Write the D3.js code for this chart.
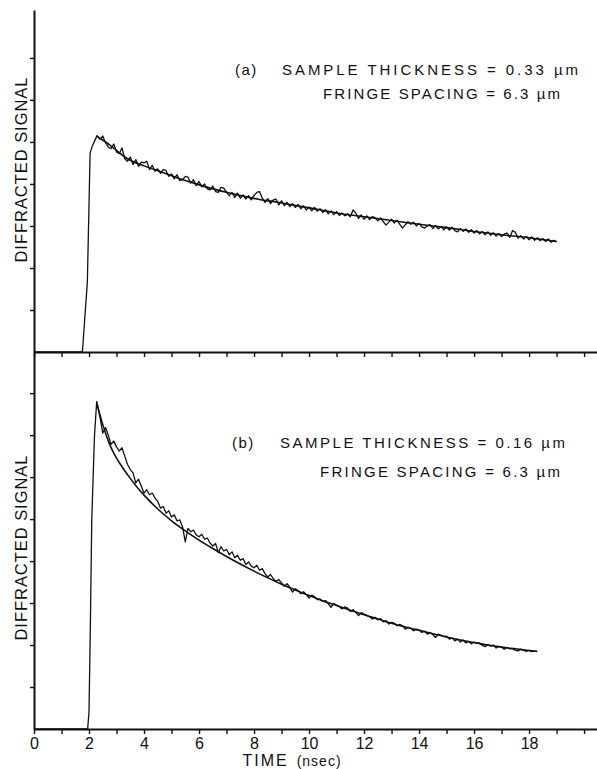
<!DOCTYPE html>
<html><head><meta charset="utf-8">
<script src="https://cdn.jsdelivr.net/npm/d3@7"></script>
<style>body{margin:0;background:#fff}svg{display:block}text{font-family:"Liberation Sans",Arial,sans-serif;fill:#111}</style>
</head><body><svg id="c" width="597" height="769"></svg>
<script>
// ---- data ----
const xTickValues = [0, 2, 4, 6, 8, 10, 12, 14, 16, 18];
const xTickLabels = ["0", "2", "4", "6", "8", "10", "12", "14", "16", "18"];
const xMinorTicks = [0,1,2,3,4,5,6,7,8,9,10,11,12,13,14,15,16,17,18,19,20];
const yTopTicks = [1, 2, 3, 4, 5, 6, 7];
const yBotTicks = [1, 2, 3, 4, 5, 6, 7, 8];

// panel (a): rise of the measured trace
const topRiseT = [0, 1.76, 1.94, 2.04, 2.12, 2.29];
const topRiseV = [0, 0, 1.67, 4.74, 4.90, 5.15];
// panel (a): measured (noisy) trace after the peak
const topNoisyT = [2.4,2.5,2.6,2.7,2.8,2.9,3.0,3.1,3.2,3.3,
  3.4,3.5,3.6,3.7,3.8,3.9,4.0,4.1,4.2,4.3,
  4.4,4.5,4.6,4.7,4.8,4.9,5.0,5.1,5.2,5.3,
  5.4,5.5,5.6,5.7,5.8,5.9,6.0,6.1,6.2,6.3,
  6.4,6.5,6.6,6.7,6.8,6.9,7.0,7.1,7.2,7.3,
  7.4,7.5,7.6,7.7,7.8,7.9,8.0,8.1,8.2,8.3,
  8.4,8.5,8.6,8.7,8.8,8.9,9.0,9.1,9.2,9.3,
  9.4,9.5,9.6,9.7,9.8,9.9,10.0,10.1,10.2,10.3,
  10.4,10.5,10.6,10.7,10.8,10.9,11.0,11.1,11.2,11.3,
  11.4,11.5,11.6,11.7,11.8,11.9,12.0,12.1,12.2,12.3,
  12.4,12.5,12.6,12.7,12.8,12.9,13.0,13.1,13.2,13.3,
  13.4,13.5,13.6,13.7,13.8,13.9,14.0,14.1,14.2,14.3,
  14.4,14.5,14.6,14.7,14.8,14.9,15.0,15.1,15.2,15.3,
  15.4,15.5,15.6,15.7,15.8,15.9,16.0,16.1,16.2,16.3,
  16.4,16.5,16.6,16.7,16.8,16.9,17.0,17.1,17.2,17.3,
  17.4,17.5,17.6,17.7,17.8,17.9,18.0,18.1,18.2,18.3,
  18.4,18.5,18.6,18.7,18.8,18.9,19.0];
const topNoisyV = [5.06,5.14,4.98,4.88,4.84,4.95,4.76,4.72,4.86,4.60,
  4.54,4.64,4.46,4.58,4.42,4.52,4.50,4.54,4.34,4.44,
  4.30,4.36,4.25,4.34,4.32,4.18,4.24,4.12,4.22,4.08,
  4.10,4.18,4.16,4.02,4.10,3.96,4.06,3.93,4.00,3.88,
  3.86,3.95,3.82,3.80,3.92,3.90,3.80,3.72,3.80,3.68,
  3.78,3.66,3.74,3.64,3.72,3.62,3.72,3.80,3.82,3.66,
  3.56,3.65,3.53,3.62,3.64,3.50,3.60,3.48,3.56,3.46,
  3.53,3.44,3.51,3.41,3.48,3.38,3.45,3.36,3.44,3.35,
  3.41,3.32,3.39,3.29,3.36,3.27,3.34,3.25,3.31,3.24,
  3.29,3.22,3.38,3.31,3.18,3.26,3.16,3.24,3.15,3.22,
  3.20,3.12,3.19,3.10,3.02,3.09,3.16,3.07,3.14,3.04,
  2.95,3.03,3.10,3.04,3.09,3.00,3.06,2.98,2.95,3.00,
  3.03,2.94,3.01,2.93,2.99,2.91,2.98,2.90,2.97,2.89,
  2.86,2.94,2.87,2.93,2.85,2.91,2.83,2.89,2.81,2.87,
  2.79,2.86,2.78,2.84,2.76,2.82,2.75,2.81,2.83,2.73,
  2.89,2.85,2.71,2.77,2.69,2.75,2.67,2.74,2.66,2.72,
  2.65,2.70,2.63,2.69,2.61,2.66,2.62];
// panel (a): fitted curve
const topFitT = [2.3, 2.75, 3.4, 4, 4.6, 5.2, 5.8, 6.4, 7, 7.6, 8.2, 8.8, 9.4, 10, 11, 12, 13, 14, 15, 16, 17, 18, 19];
const topFitV = [5.13, 4.93, 4.60, 4.43, 4.29, 4.15, 4.02, 3.90, 3.80, 3.71, 3.63, 3.57, 3.50, 3.43, 3.31, 3.22, 3.13, 3.04, 2.96, 2.87, 2.79, 2.72, 2.63];

// panel (b): rise of the measured trace
const botRiseT = [0, 1.95, 2.0, 2.05, 2.10, 2.20, 2.28];
const botRiseV = [0, 0, 0.4, 2.5, 4.98, 7.0, 7.80];
// panel (b): measured (noisy) trace after the peak
const botNoisyT = [2.4,2.5,2.6,2.7,2.8,2.9,3.0,3.1,3.2,3.3,
  3.4,3.5,3.6,3.7,3.8,3.9,4.0,4.1,4.2,4.3,
  4.4,4.5,4.6,4.7,4.8,4.9,5.0,5.1,5.2,5.3,
  5.4,5.5,5.6,5.7,5.8,5.9,6.0,6.1,6.2,6.3,
  6.4,6.5,6.6,6.7,6.8,6.9,7.0,7.1,7.2,7.3,
  7.4,7.5,7.6,7.7,7.8,7.9,8.0,8.1,8.2,8.3,
  8.4,8.5,8.6,8.7,8.8,8.9,9.0,9.1,9.2,9.3,
  9.4,9.5,9.6,9.7,9.8,9.9,10.0,10.1,10.2,10.3,
  10.4,10.5,10.6,10.7,10.8,10.9,11.0,11.1,11.2,11.3,
  11.4,11.5,11.6,11.7,11.8,11.9,12.0,12.1,12.2,12.3,
  12.4,12.5,12.6,12.7,12.8,12.9,13.0,13.1,13.2,13.3,
  13.4,13.5,13.6,13.7,13.8,13.9,14.0,14.1,14.2,14.3,
  14.4,14.5,14.6,14.7,14.8,14.9,15.0,15.1,15.2,15.3,
  15.4,15.5,15.6,15.7,15.8,15.9,16.0,16.1,16.2,16.3,
  16.4,16.5,16.6,16.7,16.8,16.9,17.0,17.1,17.2,17.3,
  17.4,17.5,17.6,17.7,17.8,17.9,18.0,18.1,18.2];
const botNoisyV = [7.42,7.05,7.18,7.00,6.78,6.86,6.72,6.62,6.70,6.50,
  6.30,6.18,6.10,5.86,5.95,5.78,5.62,5.70,5.58,5.62,
  5.50,5.42,5.26,5.30,5.14,5.20,5.05,5.10,4.96,4.98,
  4.82,4.46,4.78,4.70,4.74,4.62,4.58,4.64,4.52,4.55,
  4.43,4.36,4.42,4.20,4.34,4.24,4.28,4.15,4.22,4.08,
  4.14,4.02,4.06,3.92,3.98,3.88,3.84,3.90,3.78,3.82,
  3.70,3.62,3.68,3.58,3.52,3.56,3.48,3.40,3.46,3.38,
  3.26,3.34,3.30,3.22,3.27,3.20,3.12,3.19,3.15,3.08,
  3.10,3.04,3.06,2.98,2.90,2.99,2.95,2.92,2.86,2.91,
  2.88,2.80,2.84,2.78,2.70,2.77,2.74,2.71,2.68,2.62,
  2.66,2.60,2.63,2.55,2.58,2.50,2.54,2.52,2.46,2.49,
  2.46,2.38,2.42,2.40,2.34,2.38,2.36,2.30,2.33,2.26,
  2.30,2.25,2.18,2.26,2.23,2.20,2.21,2.14,2.17,2.10,
  2.14,2.07,2.12,2.05,2.09,2.03,2.07,2.04,2.05,1.99,
  1.96,2.01,1.97,2.00,1.93,1.97,1.95,1.90,1.94,1.91,
  1.91,1.88,1.86,1.90,1.88,1.85,1.87,1.84,1.86];
// panel (b): fitted curve
const botFitT = [2.3, 2.5, 2.75, 3.0, 3.25, 3.5, 3.75, 4.0, 4.5, 5, 5.5, 6, 6.5, 7, 7.5, 8, 8.5, 9, 9.5, 10, 10.5, 11, 11.5, 12, 12.5, 13, 13.5, 14, 14.5, 15, 15.5, 16, 16.5, 17, 17.5, 18, 18.3];
const botFitV = [7.72, 7.25, 6.78, 6.45, 6.20, 5.97, 5.76, 5.57, 5.24, 4.96, 4.72, 4.50, 4.30, 4.11, 3.93, 3.76, 3.60, 3.45, 3.31, 3.18, 3.05, 2.94, 2.83, 2.72, 2.62, 2.52, 2.43, 2.35, 2.27, 2.19, 2.12, 2.06, 2.00, 1.95, 1.91, 1.87, 1.85];

const yLabel = "DIFFRACTED SIGNAL";
const xLabelMain = "TIME";
const xLabelUnit = "(nsec)";
const annA = ["(a)", "SAMPLE THICKNESS = 0.33 µm", "FRINGE SPACING = 6.3 µm"];
const annB = ["(b)", "SAMPLE THICKNESS = 0.16 µm", "FRINGE SPACING = 6.3 µm"];

// ---- drawing ----
const svg = d3.select("#c");
const x = d3.scaleLinear().domain([0, 20.47]).range([34, 597]);
const yTop = d3.scaleLinear().domain([0, 8.14]).range([352, 10]);
const yBot = d3.scaleLinear().domain([0, 8.98]).range([729, 352]);

const zip = (T, V) => T.map((t, i) => [t, V[i]]);

function styleAxis(g) {
  g.select(".domain").attr("stroke", "#111").attr("stroke-width", 2);
  g.selectAll(".tick line").attr("stroke", "#111").attr("stroke-width", 1.4);
}

// left axes
svg.append("g").attr("transform", "translate(34,0)")
  .call(d3.axisLeft(yTop).tickValues(yTopTicks).tickSize(4).tickSizeOuter(0).tickFormat(""))
  .call(styleAxis);
svg.append("g").attr("transform", "translate(34,0)")
  .call(d3.axisLeft(yBot).tickValues(yBotTicks).tickSize(4).tickSizeOuter(0).tickFormat(""))
  .call(styleAxis);

// bottom axes
svg.append("g").attr("transform", "translate(0,352)")
  .call(d3.axisBottom(x).tickValues(xMinorTicks).tickSize(5).tickSizeOuter(0).tickFormat(""))
  .call(styleAxis);
svg.append("g").attr("transform", "translate(0,729)")
  .call(d3.axisBottom(x).tickValues(xMinorTicks).tickSize(5).tickSizeOuter(0).tickFormat(""))
  .call(styleAxis);
const lab = svg.append("g").attr("transform", "translate(0,729)")
  .call(d3.axisBottom(x).tickValues(xTickValues).tickSize(0).tickPadding(9)
    .tickFormat((d, i) => xTickLabels[i]));
lab.select(".domain").remove();
lab.selectAll("text").attr("font-size", 16).attr("font-family", "Liberation Sans, Arial, sans-serif").attr("fill", "#111");

// traces
const lineTop = d3.line().x(d => x(d[0])).y(d => yTop(d[1]));
const lineBot = d3.line().x(d => x(d[0])).y(d => yBot(d[1]));
const fitTop = d3.line().x(d => x(d[0])).y(d => yTop(d[1])).curve(d3.curveMonotoneX);
const fitBot = d3.line().x(d => x(d[0])).y(d => yBot(d[1])).curve(d3.curveMonotoneX);

svg.append("path").attr("d", lineTop(zip(topRiseT, topRiseV).concat(zip(topNoisyT, topNoisyV))))
  .attr("fill", "none").attr("stroke", "#111").attr("stroke-width", 1.3).attr("stroke-linejoin", "round");
svg.append("path").attr("d", fitTop(zip(topFitT, topFitV)))
  .attr("fill", "none").attr("stroke", "#111").attr("stroke-width", 1.6);
svg.append("path").attr("d", lineBot(zip(botRiseT, botRiseV).concat(zip(botNoisyT, botNoisyV))))
  .attr("fill", "none").attr("stroke", "#111").attr("stroke-width", 1.3).attr("stroke-linejoin", "round");
svg.append("path").attr("d", fitBot(zip(botFitT, botFitV)))
  .attr("fill", "none").attr("stroke", "#111").attr("stroke-width", 1.6);

// axis titles
[[27, 170], [27, 548]].forEach(([tx, ty]) => {
  svg.append("text").attr("transform", `translate(${tx},${ty}) rotate(-90)`)
    .attr("text-anchor", "middle").attr("font-size", 16.5)
    .attr("textLength", 185).attr("lengthAdjust", "spacing").text(yLabel);
});
const xt = svg.append("text").attr("x", 292).attr("y", 766).attr("text-anchor", "middle");
xt.append("tspan").attr("font-size", 16).attr("letter-spacing", 2).text(xLabelMain);
xt.append("tspan").attr("font-size", 14).attr("dx", 8).attr("letter-spacing", 1).text(xLabelUnit);

// annotations
function ann(lines, x0, x1, w1, x2, w2, yb1, yb2) {
  svg.append("text").attr("x", x0).attr("y", yb1).attr("font-size", 15).attr("letter-spacing", 1.5).text(lines[0]);
  svg.append("text").attr("x", x1).attr("y", yb1).attr("font-size", 15)
    .attr("textLength", w1).attr("lengthAdjust", "spacing").text(lines[1]);
  svg.append("text").attr("x", x2).attr("y", yb2).attr("font-size", 15)
    .attr("textLength", w2).attr("lengthAdjust", "spacing").text(lines[2]);
}
ann(annA, 235, 282, 296, 323, 237, 75, 99);
ann(annB, 232, 280, 285, 320, 240, 448, 477);
</script></body></html>
